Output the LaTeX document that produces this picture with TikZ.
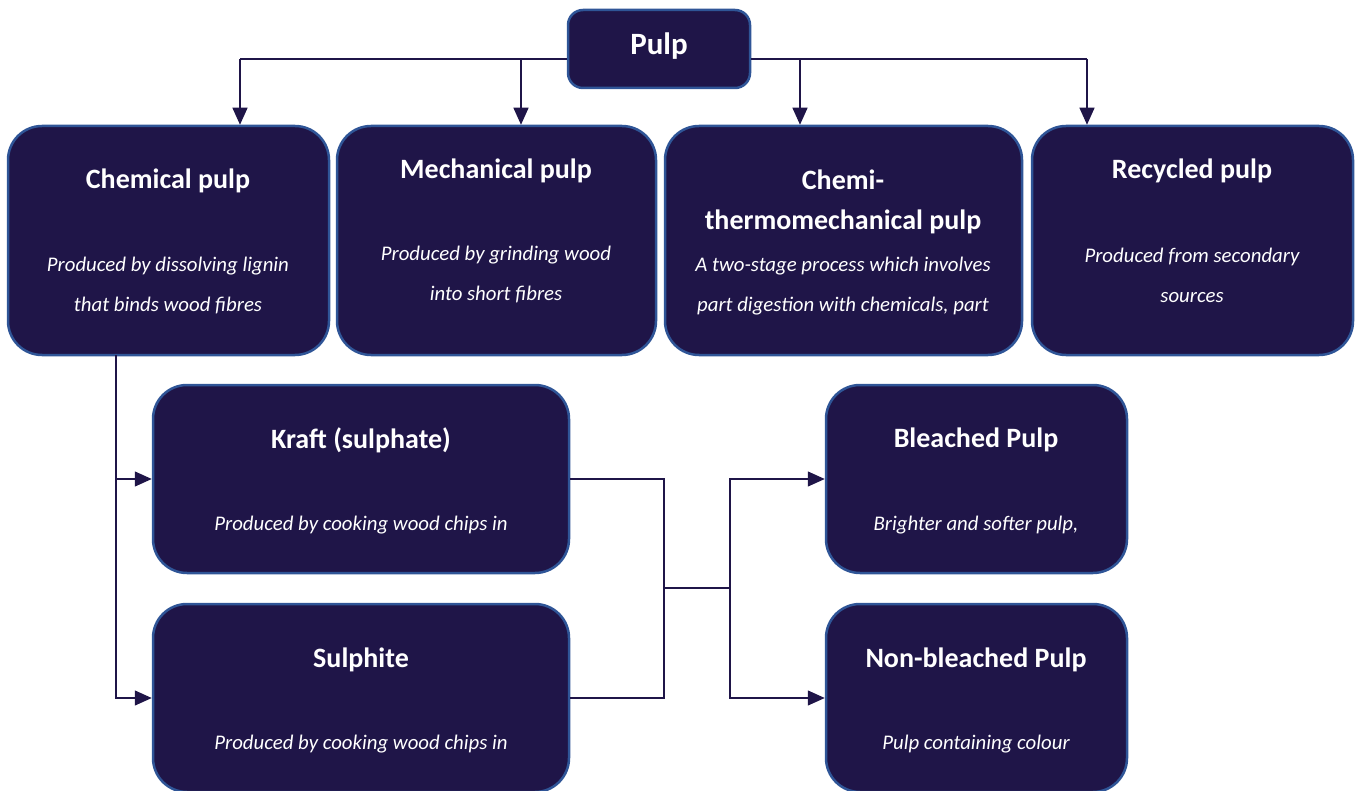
\documentclass[tikz,border=0pt]{standalone}
\usepackage{fontspec}
\setmainfont{Carlito}
\usetikzlibrary{arrows.meta,positioning}
\definecolor{boxfill}{RGB}{31,21,72}
\definecolor{boxline}{RGB}{47,85,151}
\definecolor{linkcol}{RGB}{31,21,72}
\tikzset{
  pbox/.style={draw=boxline,line width=2.5pt,fill=boxfill,rounded corners=34pt,inner sep=0pt},
  ttl/.style={text=white,font=\fontsize{28}{40}\selectfont\bfseries,align=center},
  dsc/.style={text=white,font=\fontsize{20.8}{40}\selectfont\itshape,align=center},
  conn/.style={draw=linkcol,line width=1.3pt},
  arr/.style={conn,-{Triangle[length=17pt,width=15pt]}},
}
\begin{document}
\begin{tikzpicture}[x=1pt,y=-1pt]
	\useasboundingbox (0,0) rectangle (1356,791);
	% boxes
	\node[pbox,rounded corners=15pt,minimum width=182pt,minimum height=78pt] (pulp) at (659,49) {};
	\node[pbox,minimum width=321pt,minimum height=229pt] (chem) at (168.5,240.5) {};
	\node[pbox,minimum width=319pt,minimum height=229pt] (mech) at (496.5,240.5) {};
	\node[pbox,minimum width=357pt,minimum height=229pt] (ctmp) at (843.5,240.5) {};
	\node[pbox,minimum width=321pt,minimum height=229pt] (recy) at (1192.5,240.5) {};
	\node[pbox,minimum width=416pt,minimum height=188pt] (kraft) at (361,479) {};
	\node[pbox,minimum width=416pt,minimum height=188pt] (sulph) at (361,698) {};
	\node[pbox,minimum width=301pt,minimum height=188pt] (bleach) at (976.5,479) {};
	\node[pbox,minimum width=301pt,minimum height=188pt] (nonbl) at (976.5,698) {};
	% texts
	\node[ttl,font=\fontsize{31}{40}\selectfont\bfseries] (pulpT) at (659,46) {Pulp};
	\node[ttl] (chemT) at (168,181) {Chemical pulp};
	\node[dsc] (chemD) at (168,286) {Produced by dissolving lignin\\that binds wood fibres};
	\node[ttl] (mechT) at (496,171) {Mechanical pulp};
	\node[dsc] (mechD) at (496,275) {Produced by grinding wood\\into short fibres};
	\node[ttl] (ctmpT) at (843,202) {Chemi-\\thermomechanical pulp};
	\node[dsc] (ctmpD) at (843,286) {A two-stage process which involves\\part digestion with chemicals, part};
	\node[ttl] (recyT) at (1192,171) {Recycled pulp};
	\node[dsc] (recyD) at (1192,275) {Produced from secondary\\sources};
	\node[ttl] (kraftT) at (361,440) {Kraft (sulphate)};
	\node[dsc] (kraftD) at (361,525) {Produced by cooking wood chips in};
	\node[ttl] (sulphT) at (361,660) {Sulphite};
	\node[dsc] (sulphD) at (361,744) {Produced by cooking wood chips in};
	\node[ttl] (bleachT) at (976,440) {Bleached Pulp};
	\node[dsc] (bleachD) at (976,525) {Brighter and softer pulp,};
	\node[ttl] (nonblT) at (976,660) {Non-bleached Pulp};
	\node[dsc] (nonblD) at (976,744) {Pulp containing colour};
	% connectors
	\coordinate (t1) at (240,59);
	\coordinate (t2) at (521,59);
	\coordinate (t3) at (800,59);
	\coordinate (t4) at (1087,59);
	\draw[conn] (t1) -- (pulp.west |- t1);
	\draw[conn] (pulp.east |- t4) -- (t4);
	\draw[arr] (t1) -- (t1 |- chem.north);
	\draw[arr] (t2) -- (t2 |- mech.north);
	\draw[arr] (t3) -- (t3 |- ctmp.north);
	\draw[arr] (t4) -- (t4 |- recy.north);
	\coordinate (c1) at (116,355);
	\draw[arr] (c1) |- (kraft.west);
	\draw[arr] (c1) |- (sulph.west);
	\coordinate (m1) at (664,588);
	\coordinate (m2) at (730,588);
	\draw[conn] (kraft.east) -| (m1) |- (sulph.east);
	\draw[conn] (m1) -- (m2);
	\draw[arr] (m2) |- (bleach.west);
	\draw[arr] (m2) |- (nonbl.west);
\end{tikzpicture}
\end{document}
